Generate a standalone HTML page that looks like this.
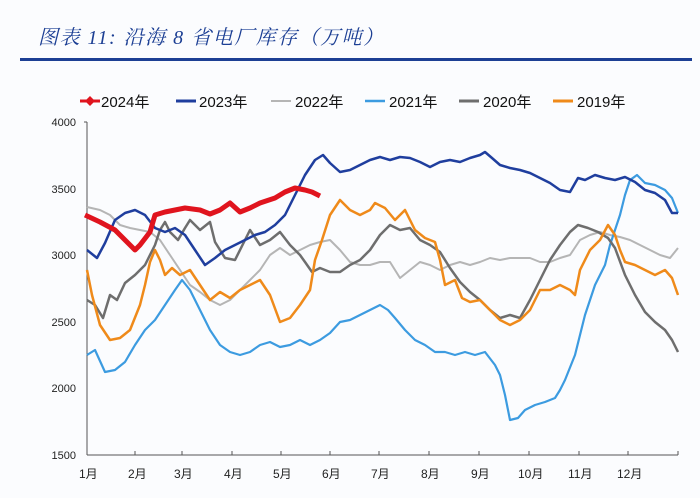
<!DOCTYPE html>
<html><head><meta charset="utf-8"><style>
body{margin:0;background:#fbfcfe;}
svg{display:block;font-family:"Liberation Sans","Noto Sans CJK SC",sans-serif;}
</style></head><body>
<svg width="700" height="498" viewBox="0 0 700 498" xmlns="http://www.w3.org/2000/svg">
<rect width="700" height="498" fill="#fbfcfe"/>
<text x="38" y="44" font-size="20" font-style="italic" letter-spacing="1.5" fill="#1c3f94" font-family="'Liberation Serif','Noto Serif CJK SC',serif">图表 11:  沿海 8 省电厂库存（万吨）</text>
<rect x="20" y="58" width="672" height="3" fill="#1c3f94"/>
<g font-size="15" fill="#111">
<line x1="80" y1="101" x2="100" y2="101" stroke="#e0141e" stroke-width="3"/><path d="M90 96 L95 101 L90 106 L85 101Z" fill="#e0141e"/><text x="101" y="107">2024年</text>
<line x1="176" y1="101" x2="196" y2="101" stroke="#1f3e9e" stroke-width="3"/><text x="199" y="107">2023年</text>
<line x1="271" y1="101" x2="291" y2="101" stroke="#b5b5b5" stroke-width="2"/><text x="295" y="107">2022年</text>
<line x1="365" y1="101" x2="385" y2="101" stroke="#3c9be0" stroke-width="2.5"/><text x="389" y="107">2021年</text>
<line x1="459" y1="101" x2="479" y2="101" stroke="#6e6e6e" stroke-width="3"/><text x="483" y="107">2020年</text>
<line x1="553" y1="101" x2="573" y2="101" stroke="#ef8a1a" stroke-width="3"/><text x="577" y="107">2019年</text>
</g>
<g font-size="11" fill="#222" text-anchor="end">
<text x="76" y="126">4000</text><text x="76" y="193">3500</text><text x="76" y="259">3000</text><text x="76" y="326">2500</text><text x="76" y="392">2000</text><text x="76" y="459">1500</text>
</g>
<g stroke="#555" stroke-width="1" fill="none">
<line x1="87" y1="122" x2="87" y2="455"/><line x1="87" y1="455" x2="678" y2="455"/>
<line x1="84" y1="122" x2="87" y2="122"/>
<path d="M135 455v-4M182 455v-4M232 455v-4M281 455v-4M330 455v-4M379 455v-4M429 455v-4M479 455v-4M529 455v-4M579 455v-4M628 455v-4M678 455v-4"/>
</g>
<g font-size="12" fill="#222">
<text x="79" y="478">1月</text><text x="128" y="478">2月</text><text x="174" y="478">3月</text><text x="224" y="478">4月</text><text x="273" y="478">5月</text><text x="322" y="478">6月</text><text x="371" y="478">7月</text><text x="421" y="478">8月</text><text x="471" y="478">9月</text><text x="518" y="478">10月</text><text x="568" y="478">11月</text><text x="617" y="478">12月</text>
</g>
<g fill="none" stroke-linejoin="round">
<polyline stroke="#b5b5b5" stroke-width="2" points="87,207 100,210 110,215 120,225 130,228 140,230 150,232 160,240 170,255 180,270 190,285 200,292 210,300 220,305 230,300 240,290 250,280 260,270 270,255 280,248 290,255 300,250 310,245 320,242 330,240 340,250 350,262 360,265 370,265 380,262 390,262 400,278 410,270 420,262 430,265 440,270 450,265 460,262 470,265 480,262 490,258 500,260 510,258 520,258 530,258 540,262 550,262 560,258 570,255 580,240 590,235 600,232 610,235 620,237 630,240 640,245 650,250 660,255 670,258 678,248"/>
<polyline stroke="#3c9be0" stroke-width="2.2" points="87,355 95,350 105,372 115,370 125,362 135,345 145,330 155,320 165,305 175,290 182,280 190,290 200,310 210,330 220,345 230,352 240,355 250,352 260,345 270,342 280,347 290,345 300,340 310,345 320,340 330,333 340,322 350,320 360,315 370,310 380,305 388,310 395,318 405,330 415,340 425,345 435,352 445,352 455,355 465,352 475,355 485,352 495,365 500,375 505,395 510,420 518,418 525,410 535,405 545,402 555,398 560,390 565,380 575,355 585,315 595,285 605,265 610,245 615,230 620,215 625,195 630,180 637,175 645,183 655,185 665,190 672,198 678,213"/>
<polyline stroke="#6e6e6e" stroke-width="2.5" points="87,300 95,305 103,318 110,295 117,300 125,283 135,275 145,265 155,245 160,230 165,222 170,232 178,240 185,228 190,220 200,230 210,222 215,242 225,258 235,260 245,240 250,230 260,245 270,240 280,232 290,245 300,255 305,262 312,272 320,268 330,272 340,272 350,265 360,260 370,250 380,235 390,225 400,230 410,228 420,240 430,245 440,252 450,268 460,282 470,292 480,300 490,310 500,318 510,315 520,318 530,300 540,280 550,260 560,245 570,232 578,225 588,228 598,232 608,238 615,248 625,275 635,295 645,312 655,322 665,330 672,340 678,352"/>
<polyline stroke="#ef8a1a" stroke-width="2.5" points="87,270 92,295 100,325 110,340 120,338 130,330 140,305 145,285 150,262 155,250 160,260 165,275 172,268 180,275 190,270 200,285 210,300 220,292 230,298 240,290 250,285 260,280 270,295 280,322 290,318 300,305 310,290 315,260 322,240 330,215 340,200 350,210 360,215 370,210 375,203 385,208 395,220 405,210 415,230 425,238 435,242 440,260 445,285 455,280 462,298 470,302 480,300 490,310 500,320 510,325 520,320 530,310 540,290 550,290 560,285 570,290 575,295 580,270 590,250 600,240 608,225 615,235 620,250 625,262 635,265 645,270 655,275 665,270 672,278 678,295"/>
<polyline stroke="#1f3e9e" stroke-width="2.5" points="87,250 97,258 105,243 115,220 125,213 135,210 145,215 155,228 165,232 175,228 185,235 195,250 205,265 215,258 225,250 235,245 245,240 255,235 265,232 275,225 285,215 295,195 305,175 315,160 323,155 330,163 340,172 350,170 360,165 370,160 380,157 390,160 400,157 410,158 420,162 430,167 440,162 450,160 460,162 470,158 480,155 485,152 492,158 500,165 510,168 520,170 530,173 540,178 550,183 560,190 570,192 578,178 585,180 595,175 605,178 615,180 625,177 635,182 645,190 655,193 665,200 672,213 678,213"/>
<polyline stroke="#e0141e" stroke-width="5" points="85,215 100,222 115,230 125,240 135,250 140,245 150,232 155,215 165,212 175,210 185,208 200,210 210,214 220,210 230,203 240,212 250,208 260,203 275,198 285,192 295,188 305,190 312,192 320,196"/>
</g>
</svg>
</body></html>
